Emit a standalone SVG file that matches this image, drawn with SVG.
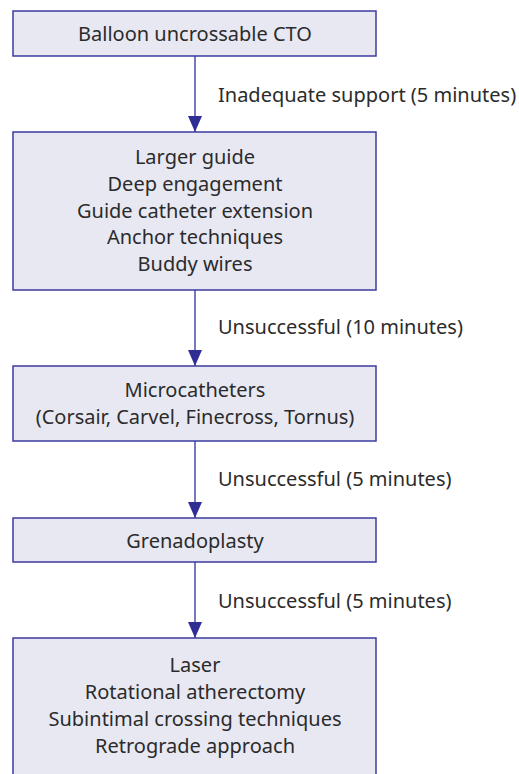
<svg xmlns="http://www.w3.org/2000/svg" width="519" height="774" viewBox="0 0 519 774">
<style>
.box{fill:#e8e8f3;stroke:#3b3ba0;stroke-width:1.5}
.t{font-family:"Noto Sans",sans-serif;font-size:20px;fill:#2b2b2b;text-anchor:middle;dominant-baseline:central}
.l{font-family:"Noto Sans",sans-serif;font-size:20px;fill:#2b2b2b;dominant-baseline:central}
.c{stroke:#4a4aa8;stroke-width:1.5;fill:none}
</style>
<defs>
<marker id="ah" markerWidth="17" markerHeight="14" refX="16" refY="7" orient="auto" markerUnits="userSpaceOnUse">
<path d="M0,0 L16,7 L0,14 Z" fill="#2e2e94"/>
</marker>
</defs>
<rect width="519" height="774" fill="#fff"/>
<g id="connectors">
<line class="c" x1="195" y1="56" x2="195" y2="132" marker-end="url(#ah)"/>
<line class="c" x1="195" y1="290" x2="195" y2="366" marker-end="url(#ah)"/>
<line class="c" x1="195" y1="441" x2="195" y2="518" marker-end="url(#ah)"/>
<line class="c" x1="195" y1="562" x2="195" y2="638" marker-end="url(#ah)"/>
<text class="l" x="218" y="94">Inadequate support (5 minutes)</text>
<text class="l" x="218" y="326">Unsuccessful (10 minutes)</text>
<text class="l" x="218" y="478">Unsuccessful (5 minutes)</text>
<text class="l" x="218" y="600">Unsuccessful (5 minutes)</text>
</g>
<g id="n1">
<rect class="box" x="13" y="11" width="363" height="45"/>
<text class="t" x="195" y="33">Balloon uncrossable CTO</text>
</g>
<g id="n2">
<rect class="box" x="13" y="132" width="363" height="158"/>
<text class="t" x="195" y="156">Larger guide</text>
<text class="t" x="195" y="183">Deep engagement</text>
<text class="t" x="195" y="210">Guide catheter extension</text>
<text class="t" x="195" y="236">Anchor techniques</text>
<text class="t" x="195" y="263">Buddy wires</text>
</g>
<g id="n3">
<rect class="box" x="13" y="366" width="363" height="75"/>
<text class="t" x="195" y="389">Microcatheters</text>
<text class="t" x="195" y="416">(Corsair, Carvel, Finecross, Tornus)</text>
</g>
<g id="n4">
<rect class="box" x="13" y="518" width="363" height="44"/>
<text class="t" x="195" y="540">Grenadoplasty</text>
</g>
<g id="n5">
<rect class="box" x="13" y="638" width="363" height="150"/>
<text class="t" x="195" y="664">Laser</text>
<text class="t" x="195" y="691">Rotational atherectomy</text>
<text class="t" x="195" y="718">Subintimal crossing techniques</text>
<text class="t" x="195" y="745">Retrograde approach</text>
</g>
</svg>
